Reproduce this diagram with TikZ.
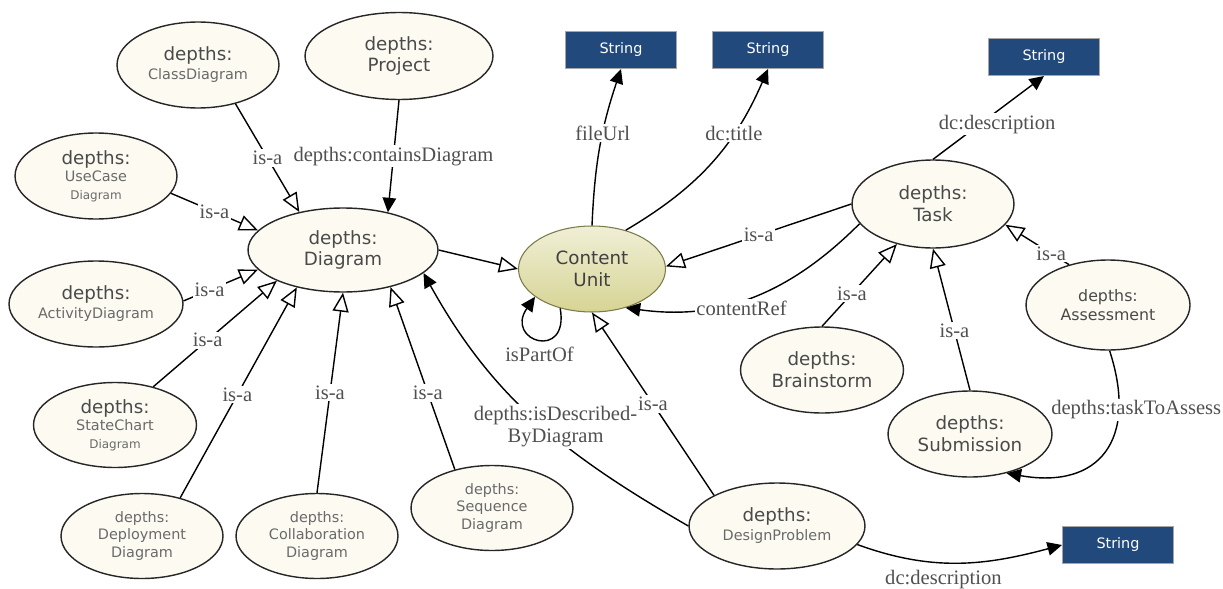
\documentclass[tikz,border=0pt]{standalone}
\usepackage{fontspec}
\setmainfont{Liberation Serif}
\newfontfamily\nodefont{DejaVu Sans}
\usetikzlibrary{arrows.meta,shapes.geometric}
\definecolor{cream}{HTML}{FCFAF1}
\definecolor{cuTop}{HTML}{F0EFD6}
\definecolor{cuBot}{HTML}{D6D494}
\definecolor{cuLine}{HTML}{7C7A48}
\definecolor{strBlue}{HTML}{21497C}
\definecolor{txtGray}{HTML}{4A4A4A}
\definecolor{subGray}{HTML}{6A6A6A}
\definecolor{lblGray}{HTML}{505050}
\def\dbig{\fontsize{10.4}{12.4}\selectfont}
\def\dmed{\fontsize{9}{10.4}\selectfont}
\def\dsmall{\fontsize{6.8}{8}\selectfont}
\def\lite#1{{\color{subGray}#1}}

\begin{document}
\begin{tikzpicture}[x=0.02cm,y=-0.02cm,>={Triangle[length=0.29cm,width=0.27cm]},
	concept/.style={ellipse,draw=black!85,line width=0.8pt,fill=cream,text=txtGray,align=center,inner sep=0pt,
		minimum width=3.24cm,minimum height=1.72cm,font=\nodefont\dbig},
	twoline/.style={font=\nodefont\fontsize{8.2}{10.8}\selectfont},
	threeline/.style={font=\nodefont\fontsize{8.2}{10}\selectfont},
	core/.style={concept,draw=cuLine,line width=0.6pt,top color=cuTop,bottom color=cuBot,text=black!75},
	literal/.style={rectangle,draw=gray!70,line width=0.6pt,fill=strBlue,text=white,inner sep=0pt,
		minimum width=2.22cm,minimum height=0.74cm,font=\nodefont\fontsize{8.2}{9}\selectfont},
	isa/.style={-{Triangle[open,fill=white,length=0.38cm,width=0.32cm]}},
	prop/.style={->},
	lbl/.style={fill=white,inner sep=1pt,text=lblGray,font=\fontsize{11.7}{13}\selectfont}]
\useasboundingbox (0,0) rectangle (1223,588);

% diagram kinds
\node[concept,twoline]							(ClassDiagram)	at (198,65)		{{\dbig depths:}\\\lite{ClassDiagram}};
\node[concept,minimum width=3.76cm,minimum height=1.74cm]	(Project)	at (399,56)		{depths:\\Project};
\node[concept,threeline]						(UseCase)		at (96,176)		{{\dbig depths:}\\\lite{UseCase}\\\lite{\dsmall Diagram}};
\node[concept,minimum width=3.8cm,minimum height=1.68cm]	(Diagram)	at (343,250)	{depths:\\Diagram};
\node[concept,twoline,minimum width=3.48cm]		(ActivityDiagram)	at (96,304)	{{\dbig depths:}\\\lite{ActivityDiagram}};
\node[concept,threeline,minimum width=3.26cm,minimum height=1.7cm]	(StateChart)	at (115,425)	{{\dbig depths:}\\\lite{StateChart}\\\lite{\dsmall Diagram}};
\node[concept,threeline,minimum height=1.7cm,text=subGray]	(Deployment)	at (142,536)	{depths:\\Deployment\\Diagram};
\node[concept,threeline,minimum height=1.7cm,text=subGray]	(Collaboration)	at (317,536)	{depths:\\Collaboration\\Diagram};
\node[concept,threeline,minimum height=1.7cm,text=subGray]	(Sequence)		at (492,508)	{depths:\\Sequence\\Diagram};

% content side
\node[core,minimum width=2.94cm]				(ContentUnit)	at (592,269)	{Content\\Unit};
\node[literal]									(String1)		at (621,50)		{String};
\node[literal]									(String2)		at (768,50)		{String};
\node[literal]									(String3)		at (1044,57)	{String};
\node[literal]									(String4)		at (1118,545)	{String};

% task kinds
\node[concept,minimum height=1.76cm]			(Task)			at (933,204)	{depths:\\Task};
\node[concept,minimum width=3.28cm,minimum height=1.8cm,font=\nodefont\dmed]	(Assessment)	at (1108,305)	{depths:\\Assessment};
\node[concept,minimum width=3.26cm]				(Brainstorm)	at (822,370)	{depths:\\Brainstorm};
\node[concept,minimum width=3.28cm]				(Submission)	at (970,434)	{depths:\\Submission};
\node[concept,twoline,minimum width=3.52cm]		(DesignProblem)	at (777,526)	{{\dbig depths:}\\\lite{DesignProblem}};

\path[line width=0.8pt]
(ClassDiagram.314)	edge[isa]						node[lbl]					(l1)	{is-a}						(Diagram.139)
(Project.270)		edge[prop]						node[lbl]					(l2)	{depths:containsDiagram}	(Diagram.40)
(UseCase.347)		edge[isa]						node[lbl]					(l3)	{is-a}						(Diagram.167)
(ActivityDiagram.2)	edge[isa]						node[lbl,pos=0.35]			(l4)	{is-a}						(Diagram.193)
(StateChart.45)		edge[isa]						node[lbl,pos=0.44]			(l5)	{is-a}						(Diagram.205)
(Deployment.45)		edge[isa]						node[lbl,pos=0.49]			(l6)	{is-a}						(Diagram.219)
(Collaboration.90)	edge[isa]						node[lbl]					(l7)	{is-a}						(Diagram.270)
(Sequence.134)		edge[isa]						node[lbl,pos=0.42]			(l8)	{is-a}						(Diagram.322)
(DesignProblem.180)	edge[prop,out=150,in=-61]		node[lbl,align=center,pos=0.47,xshift=0.25cm]	(l9)	{depths:isDescribed-\\ByDiagram}	(Diagram.344)
(Diagram.0)			edge[isa]																							(ContentUnit.180)

(ContentUnit.90)	edge[prop,bend left=8]			node[lbl,pos=0.59]			(l10)	{fileUrl}					(String1.south)
(ContentUnit.49)	edge[prop,bend right=18]		node[lbl,pos=0.68]			(l11)	{dc:title}					(String2.south)
(ContentUnit.231)	edge[prop,out=-80,in=235,looseness=5]	node[lbl,below,pos=0.5,yshift=-0.1cm]	(l12)	{isPartOf}	(ContentUnit.206)

(Task.180)			edge[isa]						node[lbl]					(l13)	{is-a}						(ContentUnit.2)
(Task.195)			edge[prop,out=225,in=-8]		node[lbl,pos=0.55,yshift=-0.15cm]	(l14)	{contentRef}		(ContentUnit.311)
(DesignProblem.154)	edge[isa]						node[lbl]					(l15)	{is-a}						(ContentUnit.270)
(Brainstorm.90)		edge[isa]						node[lbl,pos=0.4]			(l16)	{is-a}						(Task.228)
(Submission.90)		edge[isa]						node[lbl,pos=0.42]			(l17)	{is-a}						(Task.270)
(Assessment.134)	edge[isa]						node[lbl,pos=0.28]			(l18)	{is-a}						(Task.344)
(Task.90)			edge[prop]						node[lbl,pos=0.42,xshift=0.35cm]	(l19)	{dc:description}	(String3.south)
(Assessment.272)	edge[prop,out=-72,in=-10,looseness=1.5]	node[lbl,pos=0.25,xshift=0.35cm]	(l20)	{depths:taskToAssess}	(Submission.313)
(DesignProblem.347)	edge[prop,out=-20,in=195]		node[lbl,below,pos=0.42,yshift=-0.1cm]	(l21)	{dc:description}	(String4.west)
;
\end{tikzpicture}
\end{document}
